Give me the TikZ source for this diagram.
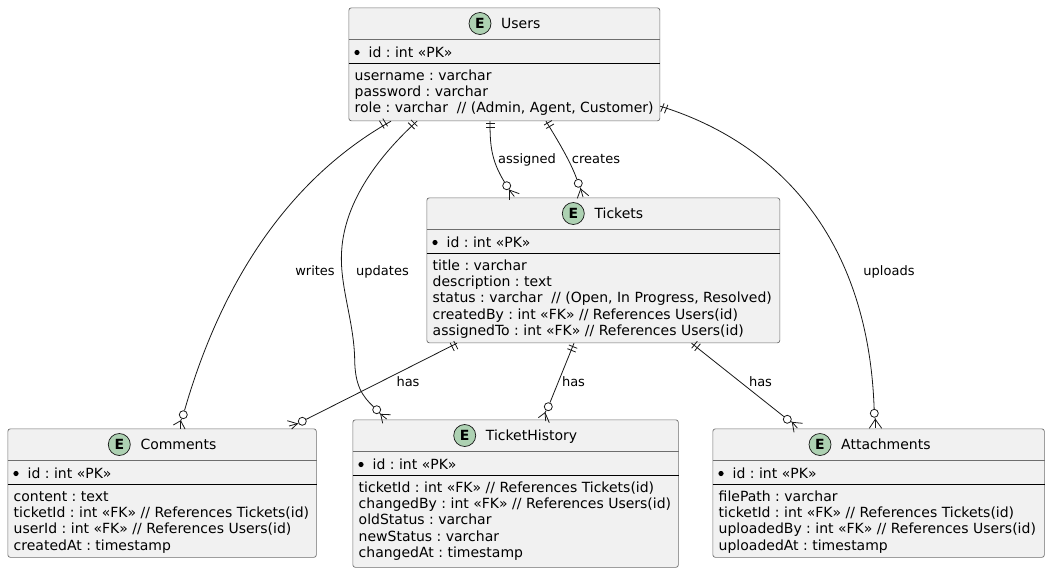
\documentclass[tikz,border=0pt]{standalone}
\usepackage{fontspec}
\setmainfont{DejaVu Sans}
\usetikzlibrary{calc}
\definecolor{boxfill}{HTML}{F1F1F1}
\definecolor{boxline}{HTML}{181818}
\definecolor{boxedge}{HTML}{6E6E6E}
\definecolor{spot}{HTML}{ADD1B2}
\tikzset{
  entity/.style={draw=boxedge,fill=boxfill,line width=0.7pt,rounded corners=2.5pt,anchor=north west,inner sep=0pt},
  sepgray/.style={draw=boxedge,line width=0.7pt},
  sepblack/.style={draw=black,line width=0.8pt},
  txt/.style={anchor=base west,inner sep=0pt,font=\fontsize{14}{16.4}\selectfont\frenchspacing,text=black},
  spotc/.style={circle,draw=boxline,line width=0.7pt,fill=spot,minimum size=22pt,inner sep=0pt,font=\fontsize{14}{14}\selectfont\bfseries},
  pkdot/.style={circle,fill=black,minimum size=5.2pt,inner sep=0pt},
  conn/.style={draw=boxline,line width=0.8pt},
  open/.style={circle,draw=boxline,line width=0.8pt,minimum size=8pt,inner sep=0pt},
  lab/.style={inner sep=0pt,anchor=base,font=\fontsize{13}{13}\selectfont,text=black},
}
% name, x, y, w, h, spot centre x, title, body rows
\newcommand{\entitybox}[8]{%
  \node[entity,minimum width=#4pt,minimum height=#5pt] (#1) at (#2,#3) {};
  \draw[sepgray] ($(#1.north west)+(0,32)$) -- ($(#1.north east)+(0,32)$);
  \draw[sepblack] ($(#1.north west)+(0,55.5)$) -- ($(#1.north east)+(0,55.5)$);
  \node[spotc] (#1-spot) at ($(#1.north west)+(#6,16)$) {E};
  \node[txt] (#1-title) at ($(#1-spot.center)+(21,5)$) {#7};
  \node[pkdot] (#1-dot) at ($(#1.north west)+(8.5,45)$) {};
  \node[txt] (#1-pk) at ($(#1.north west)+(20,49.5)$) {id : int «PK»};
  \node[txt] (#1-body) at ($(#1.north west)+(6,72.5)$) {\begin{tabular}[t]{@{}l@{}}#8\end{tabular}};
}
% hash marks: centre, visual angle
\newcommand{\bars}[2]{%
  \draw[conn,shift={#1},rotate=#2] (-2,-4.5) -- (-2,4.5) (2,-4.5) -- (2,4.5);
}
% crow foot: circle node, apex, legs
\newcommand{\crow}[3]{%
  \draw[conn] (#1) -- #2;
  \foreach \leg in {#3} { \draw[conn] #2 -- \leg; }
}
\begin{document}
\begin{tikzpicture}[x=1pt,y=-1pt]
\useasboundingbox (0,0) rectangle (1049,571);
\fill[white] (0,0) rectangle (1049,571);

\entitybox{users}{348.5}{7.5}{311}{113}{131.5}{Users}{username : varchar\\password : varchar\\role : varchar\ \ // (Admin, Agent, Customer)}
\entitybox{tickets}{426.5}{197.5}{353}{145}{146.8}{Tickets}{title : varchar\\description : text\\status : varchar\ \ // (Open, In Progress, Resolved)\\createdBy : int «FK» // References Users(id)\\assignedTo : int «FK» // References Users(id)}
\entitybox{comments}{7.5}{428.5}{308.5}{128.5}{111.8}{Comments}{content : text\\ticketId : int «FK» // References Tickets(id)\\userId : int «FK» // References Users(id)\\createdAt : timestamp}
\entitybox{history}{352.5}{419.5}{325.5}{147.5}{112.2}{TicketHistory}{ticketId : int «FK» // References Tickets(id)\\changedBy : int «FK» // References Users(id)\\oldStatus : varchar\\newStatus : varchar\\changedAt : timestamp}
\entitybox{attach}{712.5}{428.5}{331.5}{128.5}{107.5}{Attachments}{filePath : varchar\\ticketId : int «FK» // References Tickets(id)\\uploadedBy : int «FK» // References Users(id)\\uploadedAt : timestamp}

% open circles
\node[open] (c1) at (183.3,414.7) {};
\node[open] (c2) at (376.7,409.7) {};
\node[open] (c3) at (506.7,185.7) {};
\node[open] (c4) at (578.3,183.3) {};
\node[open] (c5) at (874.3,413.3) {};
\node[open] (c6) at (302.3,421.3) {};
\node[open] (c7) at (548.3,406.7) {};
\node[open] (c8) at (787.3,419.3) {};

% connectors
\draw[conn] ($(users.south west)+(42.5,0)$) .. controls (290,178) and (222,280) .. (c1);
\draw[conn] ($(users.south west)+(68.5,0)$) .. controls (380,155) and (345,200) .. (341.7,250)
   .. controls (339,285) and (354,320) .. (354.7,360)
   .. controls (355,385) and (362,396) .. (c2);
\draw[conn] ($(users.south west)+(141.5,0)$) .. controls (490,145) and (491,160) .. (c3);
\draw[conn] ($(users.south west)+(197.5,0)$) .. controls (555,136) and (570,160) .. (c4);
\draw[conn] ($(users.south east)+(0,-15)$) .. controls (770,140) and (868,230) .. (c5);
\draw[conn] ($(tickets.south west)+(30.5,0)$) -- (c6);
\draw[conn] ($(tickets.south west)+(147.5,0)$) -- (c7);
\draw[conn] ($(tickets.south west)+(265,0)$) -- (c8);

% one-and-only-one marks
\bars{(383.5,123.5)}{212}
\bars{(412.8,124.5)}{225}
\bars{(490,125)}{270}
\bars{(549,124.5)}{-60}
\bars{(664.3,108.3)}{-22}
\bars{(454,346)}{207}
\bars{(572.3,348.5)}{248}
\bars{(696,346)}{-39}

% crow feet
\crow{c1}{(180.7,420.7)}{(173.3,425),(180.7,429),(185,429)}
\crow{c2}{(380.7,414.3)}{(390.7,414.7),(382.7,423.3),(386.7,419)}
\crow{c3}{(509.3,190)}{(519.3,193.7),(509.3,200),(514.3,196.5)}
\crow{c4}{(580.7,189)}{(588.7,195.7),(577.3,198.3),(583,197)}
\crow{c5}{(875.3,419.3)}{(869.3,428.3),(881.7,428.3),(875.3,428.3)}
\crow{c6}{(297.3,423.7)}{(287.3,420.7),(291.7,429),(289,426)}
\crow{c7}{(545,412.7)}{(538.3,417.7),(549.3,422.7),(545.7,421)}
\crow{c8}{(792.3,422.3)}{(802.7,423.3),(794,432.3),(797.3,428)}

% labels
\node[lab] (l1) at (315,275.5) {writes};
\node[lab] (l2) at (382.5,275.5) {updates};
\node[lab] (l3) at (527,163) {assigned};
\node[lab] (l4) at (596,163) {creates};
\node[lab] (l5) at (889,275.5) {uploads};
\node[lab] (l6) at (408,386.5) {has};
\node[lab] (l7) at (573.5,386.5) {has};
\node[lab] (l8) at (760.5,386.5) {has};
\end{tikzpicture}
\end{document}
